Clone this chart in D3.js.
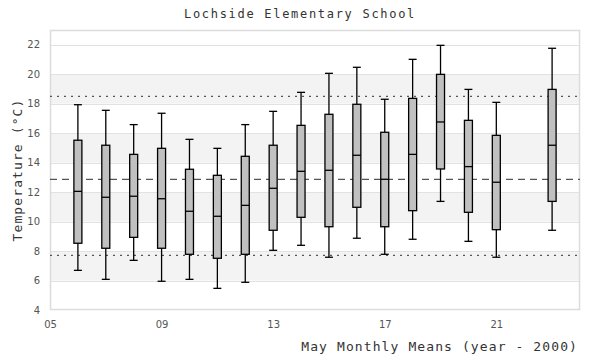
<!DOCTYPE html>
<html><head><meta charset="utf-8">
<script src="https://cdn.jsdelivr.net/npm/d3@7/dist/d3.min.js"></script>
<style>body{margin:0;background:#fff}svg{display:block}</style>
</head><body><svg id="c" width="600" height="360"></svg>
<script>
const years      = [6, 7, 8, 9, 10, 11, 12, 13, 14, 15, 16, 17, 18, 19, 20, 21, 23];
const whiskerLow = [6.69, 6.08, 7.37, 5.95, 6.08, 5.47, 5.88, 8.05, 8.39, 7.58, 8.87, 7.78, 8.80, 11.37, 8.66, 7.58, 9.41];
const q1         = [8.53, 8.19, 8.93, 8.19, 7.78, 7.51, 7.78, 9.41, 10.29, 9.65, 10.97, 9.65, 10.74, 13.57, 10.63, 9.45, 11.37];
const median     = [12.05, 11.65, 11.72, 11.55, 10.70, 10.36, 11.10, 12.26, 13.41, 13.48, 14.50, 12.87, 14.56, 16.76, 13.73, 12.67, 15.18];
const q3         = [15.52, 15.18, 14.56, 14.97, 13.55, 13.14, 14.43, 15.18, 16.53, 17.28, 17.96, 16.06, 18.36, 19.99, 16.87, 15.85, 18.97];
const whiskerHigh= [17.93, 17.55, 16.58, 17.35, 15.58, 14.97, 16.58, 17.48, 18.77, 20.06, 20.47, 18.30, 21.01, 21.96, 18.97, 18.09, 21.76];
const meanLine = 12.87;
const upperLine = 18.50;
const lowerLine = 7.71;
const bands = [[6, 8], [10, 12], [14, 16], [18, 20]];
const yTicks = [4, 6, 8, 10, 12, 14, 16, 18, 20, 22];
const xTicks = [5, 9, 13, 17, 21];
const title = "Lochside Elementary School";
const xTitle = "May Monthly Means (year - 2000)";
const yTitle = "Temperature (°C)";

const svg = d3.select("#c");
const L = 50, R = 580, T = 30, B = 310;
const x = d3.scaleLinear().domain([5, 24]).range([L, R]);
const y = d3.scaleLinear().domain([4, 23]).range([B, T]);

// bands
svg.append("g").selectAll("rect").data(bands).join("rect")
  .attr("x", L).attr("width", R - L)
  .attr("y", d => y(d[1])).attr("height", d => y(d[0]) - y(d[1]))
  .attr("fill", "#f3f3f3");

// grid
svg.append("g").selectAll("line").data(yTicks.filter(v => v > 4)).join("line")
  .attr("x1", L).attr("x2", R)
  .attr("y1", d => Math.round(y(d)) + 0.5).attr("y2", d => Math.round(y(d)) + 0.5)
  .attr("stroke", "#e2e2e2").attr("stroke-width", 1);

// frame
svg.append("rect").attr("x", L + 0.5).attr("y", T + 0.5)
  .attr("width", R - L - 1).attr("height", B - T - 1)
  .attr("fill", "none").attr("stroke", "#dcdcdc").attr("stroke-width", 1.5);

// reference lines
const ref = [[meanLine, "7,5"], [upperLine, "2,5"], [lowerLine, "2,5"]];
svg.append("g").selectAll("line").data(ref).join("line")
  .attr("x1", L).attr("x2", R)
  .attr("y1", d => y(d[0])).attr("y2", d => y(d[0]))
  .attr("stroke", "#555").attr("stroke-width", 1.2)
  .attr("stroke-dasharray", d => d[1]);

// axes
const yAxis = d3.axisLeft(y).tickValues(yTicks).tickSize(0).tickPadding(10).tickFormat(d3.format("d"));
const gy = svg.append("g").attr("transform", `translate(${L},0)`).call(yAxis);
gy.select(".domain").remove();
gy.selectAll("text").attr("font-family", "DejaVu Sans, sans-serif").attr("font-size", 10).attr("fill", "#555");

const xAxis = d3.axisBottom(x).tickValues(xTicks).tickSize(0).tickPadding(11).tickFormat(d => String(d).padStart(2, "0"));
const gx = svg.append("g").attr("transform", `translate(0,${B})`).call(xAxis);
gx.select(".domain").remove();
gx.selectAll("text").attr("font-family", "DejaVu Sans, sans-serif").attr("font-size", 10).attr("fill", "#555");

// boxes
const data = years.map((yr, i) => ({yr, lo: whiskerLow[i], q1: q1[i], med: median[i], q3: q3[i], hi: whiskerHigh[i]}));
const bw = 8;
const g = svg.append("g").selectAll("g").data(data).join("g");
g.append("line").attr("x1", d => x(d.yr)).attr("x2", d => x(d.yr))
  .attr("y1", d => y(d.hi)).attr("y2", d => y(d.lo)).attr("stroke", "#000").attr("stroke-width", 1.3);
g.append("line").attr("x1", d => x(d.yr) - bw / 2).attr("x2", d => x(d.yr) + bw / 2)
  .attr("y1", d => y(d.hi)).attr("y2", d => y(d.hi)).attr("stroke", "#000").attr("stroke-width", 1.3);
g.append("line").attr("x1", d => x(d.yr) - bw / 2).attr("x2", d => x(d.yr) + bw / 2)
  .attr("y1", d => y(d.lo)).attr("y2", d => y(d.lo)).attr("stroke", "#000").attr("stroke-width", 1.3);
g.append("rect").attr("x", d => x(d.yr) - bw / 2).attr("width", bw)
  .attr("y", d => y(d.q3)).attr("height", d => y(d.q1) - y(d.q3))
  .attr("fill", "#c0c0c0").attr("stroke", "#000").attr("stroke-width", 1.3);
g.append("line").attr("x1", d => x(d.yr) - bw / 2).attr("x2", d => x(d.yr) + bw / 2)
  .attr("y1", d => y(d.med)).attr("y2", d => y(d.med)).attr("stroke", "#000").attr("stroke-width", 1.3);

// titles
const mono = "DejaVu Sans Mono, monospace";
svg.append("text").attr("x", 300).attr("y", 18).attr("text-anchor", "middle")
  .attr("font-family", mono).attr("font-size", 12).attr("letter-spacing", "1.7px")
  .attr("fill", "#333").text(title);
svg.append("text").attr("x", 578).attr("y", 351).attr("text-anchor", "end")
  .attr("font-family", mono).attr("font-size", 13).attr("letter-spacing", "1.1px")
  .attr("fill", "#333").text(xTitle);
svg.append("text").attr("transform", "translate(22,170) rotate(-90)").attr("text-anchor", "middle")
  .attr("font-family", mono).attr("font-size", 13).attr("letter-spacing", "1.1px")
  .attr("fill", "#333").text(yTitle);
</script></body></html>
